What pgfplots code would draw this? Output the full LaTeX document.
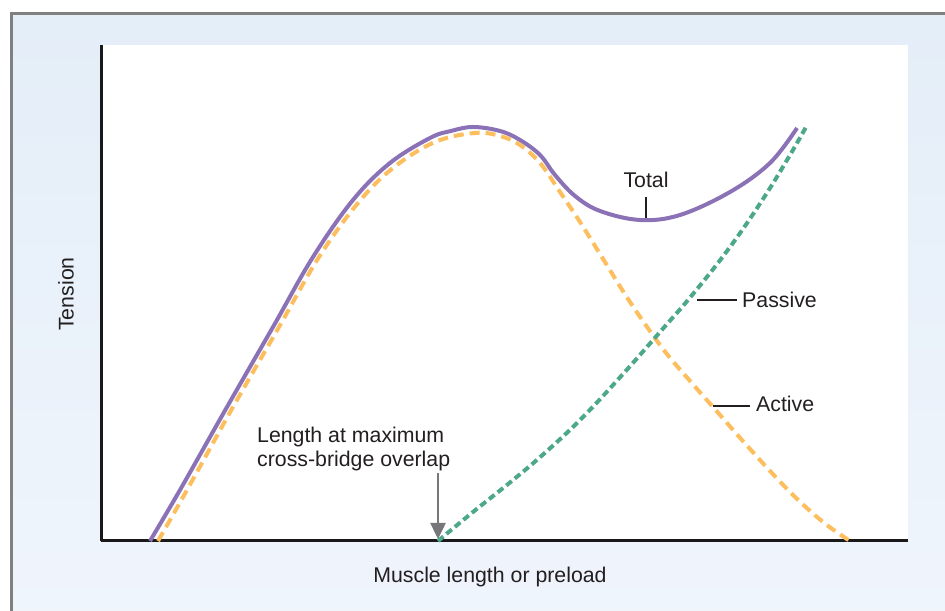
\documentclass[border=0pt]{standalone}
\usepackage{pgfplots}
\pgfplotsset{compat=1.18}
\usepackage{fontspec}
\setmainfont{Liberation Sans}
\usetikzlibrary{arrows.meta}
\definecolor{totalc}{RGB}{139,114,182}
\definecolor{activec}{RGB}{253,190,94}
\definecolor{passivec}{RGB}{77,168,138}
\definecolor{arrowc}{RGB}{119,119,123}
\definecolor{framec}{RGB}{128,128,128}
\definecolor{txt}{RGB}{35,31,32}
\definecolor{bgtop}{RGB}{228,238,248}
\definecolor{bgmid}{RGB}{215,231,245}
\definecolor{bgbot}{RGB}{240,245,252}
\pgfplotstableread{
x y
49 0
79 51
126 134
172 214
212 284
252 341
289 378
329 403
350 410
372 414
399 410
419 401
439 386
454 366
474 345
499 330
539 321
579 326
629 349
669 378
696 413
}\totaldata
\pgfplotstableread{
x y
57 0
86 51
132 134
178 214
218 284
257 338
292 373
334 399
374 408
399 405
419 396
439 378
459 349
479 319
499 287
529 239
562 192
589 160
612 134
649 92
689 49
722 19
749 0
}\activedata
\pgfplotstableread{
x y
337 0
372 29
412 61
446 90
482 124
522 167
559 209
592 247
629 294
662 342
689 386
705 414
}\passivedata
\begin{document}
\fontsize{21.3bp}{25bp}\selectfont
\begin{tikzpicture}[x=1bp,y=1bp]
\useasboundingbox (0,0) rectangle (945,611);
\shade[top color=bgtop, middle color=bgmid, bottom color=bgbot, draw=framec, line width=3bp]
  (11.5,-20) rectangle (965,597.5);
\node[rotate=90, text=txt] at (66,317) {Tension};
\node[text=txt] at (490,34) {Muscle length or preload};
\begin{axis}[
  at={(101bp,70bp)}, anchor=origin,
  scale only axis, width=807bp, height=496bp,
  xmin=0, xmax=807, ymin=0, ymax=496,
  axis x line=bottom, axis y line=left,
  axis line style={line width=3bp, black!90, -},
  axis background/.style={fill=white},
  xtick=\empty, ytick=\empty,
  clip=false,
]
\addplot[color=totalc, line width=4bp, smooth, tension=0.6] table {\totaldata};
\addplot[color=activec, line width=4bp, dash pattern=on 10bp off 6bp, smooth, tension=0.6] table {\activedata};
\addplot[color=passivec, line width=4bp, dash pattern=on 7bp off 4bp, smooth, tension=0.7] table {\passivedata};
\draw[txt, line width=1.3bp] (axis cs:545,344) -- (axis cs:545,323);
\node[text=txt, font=\fontsize{21.3bp}{25bp}\selectfont] at (axis cs:545,361) {Total};
\draw[txt, line width=1.3bp] (axis cs:596,241) -- (axis cs:636,241);
\node[text=txt, anchor=west, inner sep=0pt, font=\fontsize{21.3bp}{25bp}\selectfont] at (axis cs:641,241) {Passive};
\draw[txt, line width=1.3bp] (axis cs:612,135) -- (axis cs:649,135);
\node[text=txt, anchor=west, inner sep=0pt, font=\fontsize{21.3bp}{25bp}\selectfont] at (axis cs:655,137) {Active};
\node[text=txt, anchor=west, align=left, inner sep=0pt, font=\fontsize{21.3bp}{24bp}\selectfont] at (axis cs:156,92) {Length at maximum\\cross-bridge overlap};
\draw[arrowc, line width=2.5bp, -{Triangle[width=15bp,length=16bp]}] (axis cs:337,68) -- (axis cs:337,2);
\end{axis}
\end{tikzpicture}
\end{document}
